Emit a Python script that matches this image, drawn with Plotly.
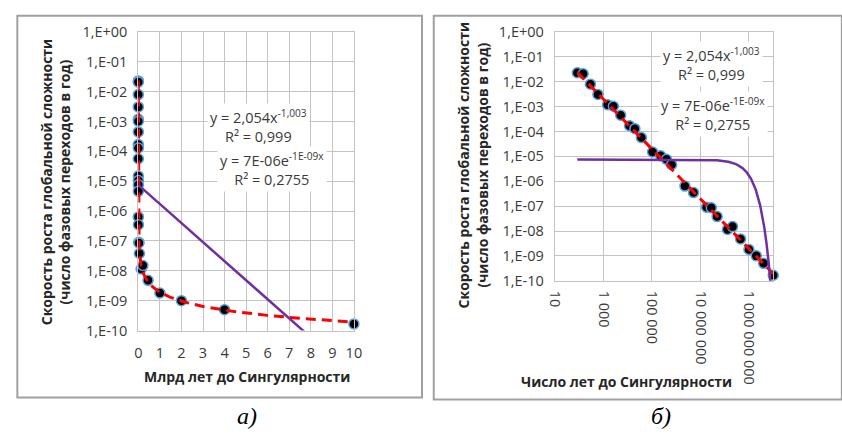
import numpy as np
import plotly.graph_objects as go

W, H = 842, 439

# ---- data ----
years_to_singularity = [85, 148, 295, 600, 1500, 2600, 5200, 12000, 20000, 37000,
                        1.07e5, 2.3e5, 4.0e5, 6.5e5, 2.3e6, 5.2e6, 1.8e7, 2.8e7,
                        4.9e7, 1.3e8, 2.1e8, 4.5e8, 1.0e9, 2.0e9, 4.0e9, 1.0e10]
growth_rate = [2.3e-2, 2.1e-2, 8e-3, 3.1e-3, 1.2e-3, 1.03e-3, 4.5e-4, 1.7e-4, 1.3e-4,
               5.7e-5, 1.5e-5, 1.06e-5, 7.6e-6, 4.6e-6, 6.4e-7, 3.5e-7, 9e-8, 8.6e-8,
               3.8e-8, 1.15e-8, 1.5e-8, 4.8e-9, 1.8e-9, 1.0e-9, 5e-10, 1.66e-10]

# trendline parameters (power and exponential fits)
power_a, power_b = 2.054, -1.003
exp_a, exp_k = 7.5e-6, -1.47e-9

y_tickvals = [1e0, 1e-1, 1e-2, 1e-3, 1e-4, 1e-5, 1e-6, 1e-7, 1e-8, 1e-9, 1e-10]
y_ticktext = ["1,E+00", "1,E-01", "1,E-02", "1,E-03", "1,E-04", "1,E-05",
              "1,E-06", "1,E-07", "1,E-08", "1,E-09", "1,E-10"]
xa_tickvals = [0, 1, 2, 3, 4, 5, 6, 7, 8, 9, 10]
xb_tickvals = [10, 1e3, 1e5, 1e7, 1e9]
xb_ticktext = ["10", "1 000", "100 000", "10 000 000", "1 000 000 000"]

x_years = np.array(years_to_singularity)
y_vals = np.array(growth_rate)
x_bln = x_years / 1e9

xt = np.logspace(np.log10(x_years.min()), np.log10(x_years.max()), 600)
xt = np.unique(np.concatenate([xt, np.linspace(x_years.min(), x_years.max(), 600)]))
y_pow = power_a * xt ** power_b
y_exp = exp_a * np.exp(exp_k * xt)

FONT = "Open Sans"
GRID = "#c4c4c4"

def px(x):
    return x / W

def py(y):
    return 1 - y / H

fig = go.Figure()

marker = dict(color="black", size=10, line=dict(color="#5a9fdc", width=1.5))
for xs, xa, ya in [(x_bln, "x", "y"), (x_years, "x2", "y2")]:
    fig.add_trace(go.Scatter(x=xs, y=y_vals, mode="markers", marker=marker,
                             xaxis=xa, yaxis=ya, showlegend=False, cliponaxis=False))
for xs, xa, ya in [(xt / 1e9, "x", "y"), (xt, "x2", "y2")]:
    fig.add_trace(go.Scatter(x=xs, y=y_pow, mode="lines",
                             line=dict(color="#ff0000", width=3, dash="10px,6px"),
                             xaxis=xa, yaxis=ya, showlegend=False))
    fig.add_trace(go.Scatter(x=xs, y=y_exp, mode="lines",
                             line=dict(color="#7030a0", width=2.5),
                             xaxis=xa, yaxis=ya, showlegend=False))

tickfont = dict(family=FONT, size=14.5, color="#3a3a3a")
common_y = dict(type="log", range=[-10, 0], tickvals=y_tickvals, ticktext=y_ticktext,
                showgrid=True, gridcolor=GRID, gridwidth=1, zeroline=False,
                showline=True, mirror=True, linecolor=GRID, linewidth=1,
                ticks="", tickfont=tickfont, ticklabelstandoff=7)

fig.update_layout(
    width=W, height=H, margin=dict(l=0, r=0, t=0, b=0),
    paper_bgcolor="white", plot_bgcolor="white",
    xaxis=dict(domain=[px(132), px(352)], range=[0, 10], tickvals=xa_tickvals,
               showgrid=True, gridcolor=GRID, zeroline=False, showline=True, mirror=True,
               linecolor=GRID, ticks="", tickfont=tickfont, anchor="y",
               ticklabelstandoff=9, ticklabeloverflow="allow"),
    yaxis=dict(domain=[py(335), py(23)], anchor="x", **common_y),
    xaxis2=dict(domain=[px(557), px(780)], type="log", range=[1, 10],
                tickvals=xb_tickvals, ticktext=xb_ticktext, tickangle=90,
                showgrid=True, gridcolor=GRID, zeroline=False, showline=True, mirror=True,
                linecolor=GRID, ticks="", tickfont=tickfont, anchor="y2",
                ticklabelstandoff=6, ticklabeloverflow="allow"),
    yaxis2=dict(domain=[py(283), py(23)], anchor="x2", **common_y),
)

# panel borders
for x0, x1, y0, y1 in [(8.5, 421.5, 6, 405), (433.5, 850, 6, 407)]:
    fig.add_shape(type="rect", xref="paper", yref="paper",
                  x0=px(x0), x1=px(x1), y0=py(y1), y1=py(y0),
                  line=dict(color="#a0a0a0", width=2), layer="below")

ann_font = dict(family=FONT, size=14.5, color="#3a3a3a")
def box(text, x, y):
    fig.add_annotation(text=text, xref="paper", yref="paper", x=px(x), y=py(y),
                       showarrow=False, font=ann_font, bgcolor="white",
                       align="center", xanchor="center", yanchor="middle", borderpad=2)

eq_pow = "y = 2,054x<sup>-1,003</sup><br>R² = 0,999"
eq_exp = "y = 7E-06e<sup>-1E-09x</sup><br>R² = 0,2755"
box(eq_pow, 255, 121)
box(eq_exp, 268, 166)
box(eq_pow, 717, 56)
box(eq_exp, 718, 109)

title_font = dict(family=FONT, size=14, color="#262626")
ytitle = "<b>Скорость роста глобальной сложности</b><br><b>(число фазовых переходов в год)</b>"
for x, y in [(47, 180), (474, 162)]:
    fig.add_annotation(text=ytitle, xref="paper", yref="paper", x=px(x), y=py(y),
                       showarrow=False, textangle=-90, font=title_font,
                       xanchor="center", yanchor="middle", align="center")
for text, x, y in [("<b>Млрд лет до Сингулярности</b>", 243, 383),
                   ("<b>Число лет до Сингулярности</b>", 630, 388)]:
    fig.add_annotation(text=text, xref="paper", yref="paper", x=px(x), y=py(y),
                       showarrow=False, font=title_font,
                       xanchor="center", yanchor="middle")
for text, x, y in [("<i>а)</i>", 243, 424), ("<i>б)</i>", 665, 424)]:
    fig.add_annotation(text=text, xref="paper", yref="paper", x=px(x), y=py(y),
                       showarrow=False, font=dict(family="Liberation Serif", size=24, color="black"),
                       xanchor="center", yanchor="middle")

fig.write_html("out.html")
